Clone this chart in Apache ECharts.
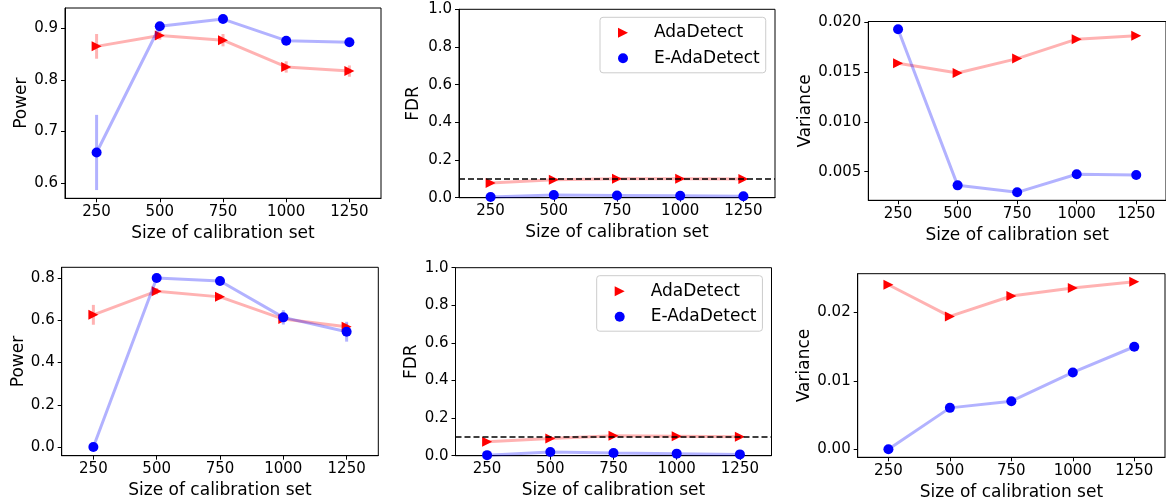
<!DOCTYPE html>
<html>
<head>
<meta charset="utf-8">
<script src="https://cdn.jsdelivr.net/npm/echarts@6/dist/echarts.min.js"></script>
<style>html,body{margin:0;padding:0;background:#fff;}#c{width:1166px;height:504px;}</style>
</head>
<body>
<div id="c"></div>
<script>
// ---- data ----
const sizes = [250, 500, 750, 1000, 1250];
const xTicks = [250, 500, 750, 1000, 1250];
const seriesNames = ['AdaDetect', 'E-AdaDetect'];
const fdrLevel = 0.1;

// row 1
const powerAda1 = [0.865, 0.886, 0.877, 0.825, 0.817];
const powerAda1Err = [0.024, 0.008, 0.012, 0.011, 0.011];
const powerEAda1 = [0.659, 0.904, 0.918, 0.876, 0.873];
const powerEAda1Err = [0.073, 0.004, 0.004, 0.004, 0.004];
const fdrAda1 = [0.078, 0.095, 0.100, 0.100, 0.099];
const fdrEAda1 = [0.004, 0.014, 0.012, 0.010, 0.008];
const varAda1 = [0.01587, 0.01490, 0.01634, 0.01829, 0.01863];
const varEAda1 = [0.01929, 0.00363, 0.00293, 0.00474, 0.00467];

// row 2
const powerAda2 = [0.626, 0.738, 0.711, 0.606, 0.570];
const powerAda2Err = [0.047, 0.015, 0.012, 0.012, 0.015];
const powerEAda2 = [0.000, 0.800, 0.786, 0.614, 0.546];
const powerEAda2Err = [0.000, 0.010, 0.010, 0.034, 0.047];
const fdrAda2 = [0.0745, 0.092, 0.106, 0.104, 0.101];
const fdrEAda2 = [0.003, 0.020, 0.014, 0.011, 0.007];
const varAda2 = [0.02404, 0.01941, 0.02239, 0.02356, 0.02448];
const varEAda2 = [0.00000, 0.00605, 0.00703, 0.01123, 0.01498];

// tick labels
const powerTicks1 = [0.6, 0.7, 0.8, 0.9];
const fdrTicks = [0.0, 0.2, 0.4, 0.6, 0.8, 1.0];
const varTicks1 = [0.005, 0.010, 0.015, 0.020];
const powerTicks2 = [0.0, 0.2, 0.4, 0.6, 0.8];
const varTicks2 = [0.00, 0.01, 0.02];

// ---- styling / layout ----
const FONT = 'DejaVu Sans';
const RED = '#ff0000', BLUE = '#0000ff';
const RED_L = 'rgba(255,0,0,0.3)', BLUE_L = 'rgba(0,0,255,0.3)';
const TRI = 'path://M0,0L10,5L0,10Z';

const panels = [
  {grid:{left:65, top:8, width:316, height:190.3}, ymin:0.570, ymax:0.9395, ticks:powerTicks1, dec:1, name:'Power', nameGap:34.5,
   a:powerAda1, aErr:powerAda1Err, e:powerEAda1, eErr:powerEAda1Err},
  {grid:{left:459, top:9.3, width:316, height:188.4}, ymin:0, ymax:1, ticks:fdrTicks, dec:1, name:'FDR', nameGap:36.5,
   a:fdrAda1, e:fdrEAda1, fdr:true, legendPos:{left:600, top:17.3}},
  {grid:{left:868.3, top:21.5, width:300.4, height:178.8}, ymin:0.00213, ymax:0.02006, ticks:varTicks1, dec:3, name:'Variance', nameGap:52.5,
   a:varAda1, e:varEAda1},
  {grid:{left:61.7, top:267.3, width:316.6, height:188.4}, ymin:-0.041, ymax:0.851, ticks:powerTicks2, dec:1, name:'Power', nameGap:34.5,
   a:powerAda2, aErr:powerAda2Err, e:powerEAda2, eErr:powerEAda2Err},
  {grid:{left:455.5, top:267.7, width:316, height:188}, ymin:0, ymax:1, ticks:fdrTicks, dec:1, name:'FDR', nameGap:35.5,
   a:fdrAda2, e:fdrEAda2, fdr:true, legendPos:{left:596.7, top:275.7}},
  {grid:{left:857.7, top:273.7, width:307.3, height:183.6}, ymin:-0.00117, ymax:0.02565, ticks:varTicks2, dec:2, name:'Variance', nameGap:44.5,
   a:varAda2, e:varEAda2}
];

const grids = [], xAxes = [], yAxes = [], series = [], legends = [];

function errSeries(i, vals, errs, color) {
  return {
    type:'custom', xAxisIndex:i, yAxisIndex:i, silent:true, z:1,
    encode:{x:0, y:1},
    data: sizes.map((s, j) => [s, vals[j], errs[j]]),
    renderItem: (params, api) => {
      const x = api.value(0), y = api.value(1), e = api.value(2);
      const p1 = api.coord([x, y - e]), p2 = api.coord([x, y + e]);
      return {type:'line', shape:{x1:p1[0], y1:p1[1], x2:p2[0], y2:p2[1]},
              style:{stroke:color, lineWidth:3}};
    }
  };
}

panels.forEach((p, i) => {
  grids.push(Object.assign({show:true, borderColor:'#000', borderWidth:1, backgroundColor:'#fff'}, p.grid));
  xAxes.push({
    type:'value', gridIndex:i, min:125, max:1375,
    name:'Size of calibration set', nameLocation:'middle', nameGap:26.5,
    nameTextStyle:{fontFamily:FONT, fontSize:17, color:'#000'},
    axisLine:{show:true, onZero:false, lineStyle:{color:'#000', width:1}},
    axisTick:{show:true, length:4, customValues:xTicks, lineStyle:{color:'#000', width:1}},
    axisLabel:{show:true, customValues:xTicks, margin:6, fontFamily:FONT, fontSize:15, color:'#000',
               formatter: v => String(v)},
    splitLine:{show:false}
  });
  yAxes.push({
    type:'value', gridIndex:i, min:p.ymin, max:p.ymax,
    name:p.name, nameLocation:'middle', nameGap:p.nameGap, nameRotate:90,
    nameTextStyle:{fontFamily:FONT, fontSize:17, color:'#000'},
    axisLine:{show:true, onZero:false, lineStyle:{color:'#000', width:1}},
    axisTick:{show:true, length:4, customValues:p.ticks, lineStyle:{color:'#000', width:1}},
    axisLabel:{show:true, customValues:p.ticks, margin:7, fontFamily:FONT, fontSize:15, color:'#000',
               formatter: v => Number(v).toFixed(p.dec)},
    splitLine:{show:false}
  });
  if (p.aErr) series.push(errSeries(i, p.a, p.aErr, RED_L));
  if (p.eErr) series.push(errSeries(i, p.e, p.eErr, BLUE_L));
  const redS = {
    name:seriesNames[0], type:'line', xAxisIndex:i, yAxisIndex:i, z:2,
    data: sizes.map((s, j) => [s, p.a[j]]),
    symbol:TRI, symbolSize:[10, 10], showSymbol:true,
    lineStyle:{color:RED_L, width:3}, itemStyle:{color:RED, borderWidth:0},
    emphasis:{disabled:true}
  };
  if (p.fdr) {
    redS.markLine = {
      silent:true, symbol:'none', label:{show:false},
      lineStyle:{color:'#000', width:1.5, type:[6, 3]},
      data:[{yAxis:fdrLevel}]
    };
  }
  series.push(redS);
  series.push({
    name:seriesNames[1], type:'line', xAxisIndex:i, yAxisIndex:i, z:3,
    data: sizes.map((s, j) => [s, p.e[j]]),
    symbol:'circle', symbolSize:10, showSymbol:true,
    lineStyle:{color:BLUE_L, width:3}, itemStyle:{color:BLUE, borderWidth:0},
    emphasis:{disabled:true}
  });
  if (p.legendPos) {
    legends.push({
      left:p.legendPos.left, top:p.legendPos.top, orient:'vertical',
      padding:[7, 6, 6, 18], itemGap:8.5, itemWidth:10, itemHeight:10,
      backgroundColor:'rgba(255,255,255,0.8)', borderColor:'#cccccc', borderWidth:1, borderRadius:3,
      selectedMode:false,
      textStyle:{fontFamily:FONT, fontSize:17, color:'#000', padding:[0, 0, 0, 21]},
      data:[{name:seriesNames[0], icon:TRI, itemStyle:{color:RED}},
            {name:seriesNames[1], icon:'circle', itemStyle:{color:BLUE}}]
    });
  }
});

const chart = echarts.init(document.getElementById('c'), null, {renderer:'canvas'});
chart.setOption({
  animation:false,
  backgroundColor:'#fff',
  grid:grids, xAxis:xAxes, yAxis:yAxes, legend:legends, series:series
});
</script>
</body>
</html>
